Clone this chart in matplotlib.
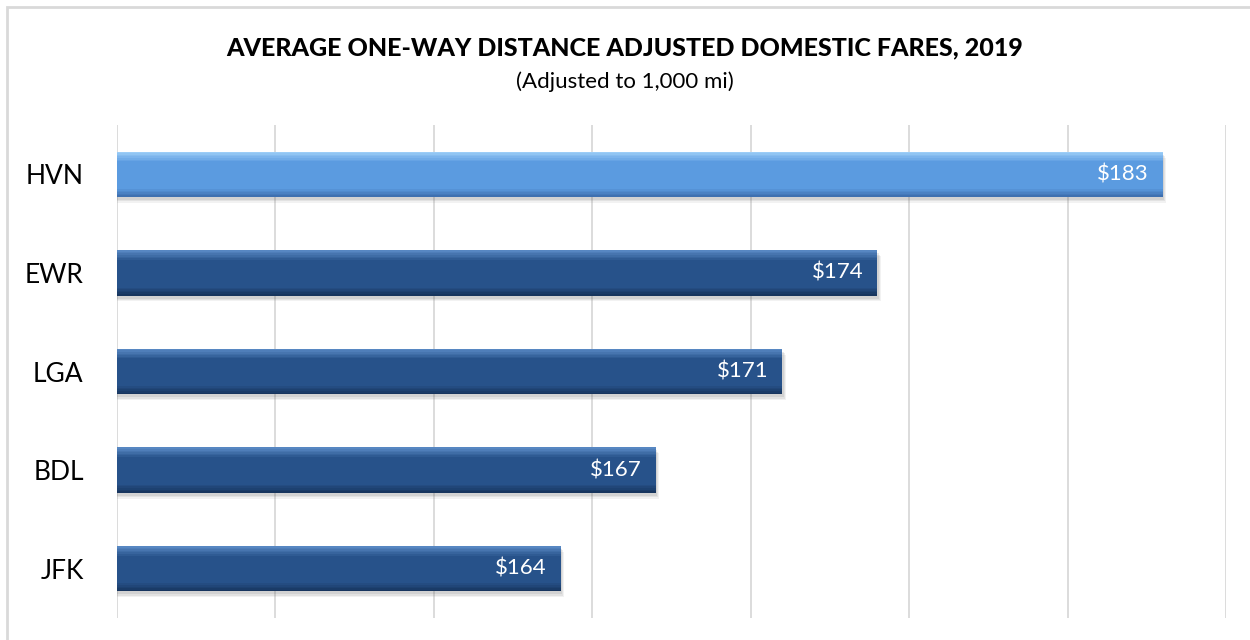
"""
Average one-way distance adjusted domestic fares, 2019 - horizontal bar chart.
"""

import matplotlib.pyplot as plt
from matplotlib.colors import to_rgb
from matplotlib.patches import Rectangle

# Data
airports = ["HVN", "EWR", "LGA", "BDL", "JFK"]
fares = [183, 174, 171, 167, 164]
value_labels = ["$183", "$174", "$171", "$167", "$164"]
grid_ticks = [150, 155, 160, 165, 170, 175, 180, 185]

FONT = "Lato"
LIGHT = ("#5B9BE0", "#9CCDF7", "#3E70B0")   # main, top highlight, bottom shade
DARK = ("#27528A", "#5787C2", "#17355E")


def mix(c1, c2, t):
    a, b = to_rgb(c1), to_rgb(c2)
    return tuple(x + (y - x) * t for x, y in zip(a, b))


fig = plt.figure(figsize=(12.5, 6.4), dpi=100)
ax = fig.add_axes([117 / 1250, 1 - 618 / 640, (1226 - 117) / 1250, (618 - 125) / 640])

# outer chart border (only top/left visible in the original)
fig.patches.append(Rectangle((7 / 1250, -0.1), 1.2, 1 - 7 / 640 + 0.1,
                             transform=fig.transFigure, fill=False,
                             edgecolor="#D9D9D9", linewidth=2, zorder=0))

h = 0.46
n_top, n_bot = 6, 5
strip = h * 0.035
for i, (val, lab) in enumerate(zip(fares, value_labels)):
    main, top, bottom = LIGHT if i == 0 else DARK
    left = grid_ticks[0]
    width = val - left
    # soft shadow
    for k, a in enumerate([0.12, 0.1, 0.08]):
        ax.barh(i + 0.03 + k * 0.015, width + 0.05 + k * 0.03, height=h, left=left,
                color="#606060", alpha=a, zorder=2, linewidth=0)
    ax.barh(i, width, height=h, left=left, color=main, zorder=3, linewidth=0)
    # bevel gradient strips
    for k in range(n_top):
        t = k / n_top
        ax.barh(i - h / 2 + strip * (k + 0.5), width, height=strip, left=left,
                color=mix(top, main, t), zorder=4, linewidth=0)
    for k in range(n_bot):
        t = k / n_bot
        ax.barh(i + h / 2 - strip * (k + 0.5), width, height=strip, left=left,
                color=mix(bottom, main, t), zorder=4, linewidth=0)
    ax.text(val - 0.45, i, lab, ha="right", va="center", color="white",
            fontsize=16, family=FONT, zorder=5)

ax.set_xlim(grid_ticks[0], grid_ticks[-1])
ax.set_ylim(len(airports) - 0.5, -0.5)
ax.set_xticks(grid_ticks)
ax.set_xticklabels([])
ax.set_yticks(range(len(airports)))
ax.set_yticklabels(airports, fontsize=19, family=FONT)
ax.tick_params(axis="both", length=0)
ax.tick_params(axis="y", pad=24)
ax.grid(axis="x", color="#D9D9D9", linewidth=1.3, zorder=0)
ax.set_axisbelow(True)
for s in ax.spines.values():
    s.set_visible(False)

fig.text(0.5, 1 - 48 / 640, "AVERAGE ONE-WAY DISTANCE ADJUSTED DOMESTIC FARES, 2019",
         ha="center", va="center", fontsize=18, fontweight="black", family=FONT)
fig.text(0.5, 1 - 82 / 640, "(Adjusted to 1,000 mi)", ha="center", va="center",
         fontsize=16, family=FONT)

fig.savefig("out.png", dpi=100)
plt.close(fig)
